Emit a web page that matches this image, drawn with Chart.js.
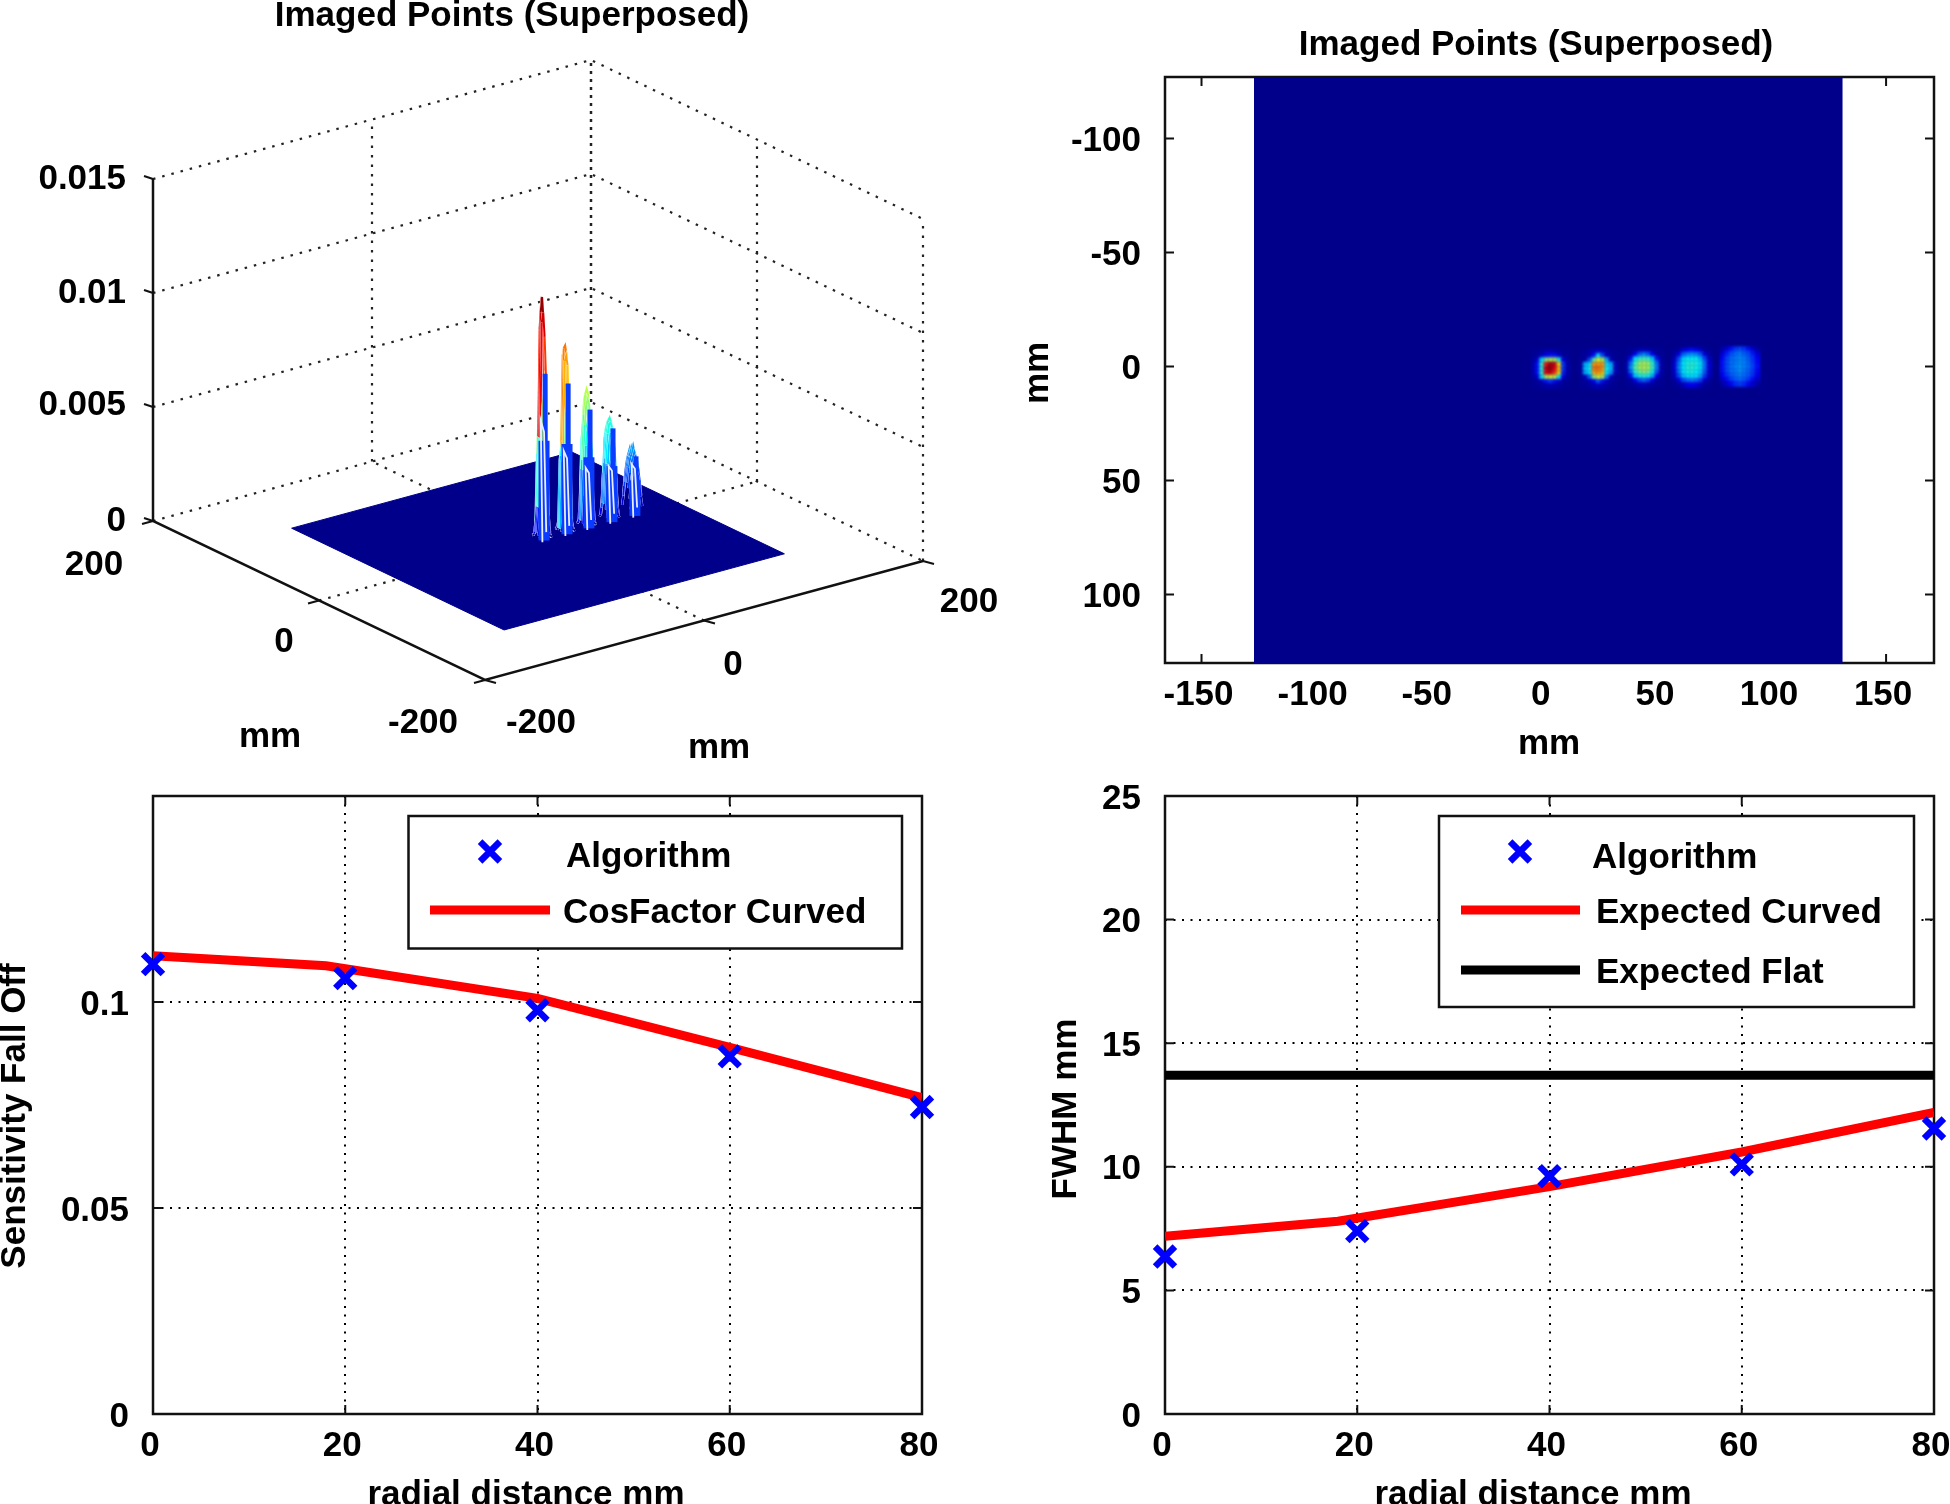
<!DOCTYPE html>
<html>
<head>
<meta charset="utf-8">
<title>Imaged Points</title>
<script src="https://cdn.jsdelivr.net/npm/chart.js@4"></script>
<style>
    html, body { margin: 0; width: 1950px; height: 1504px; overflow: hidden; background: #fff; }
    canvas { position: absolute; left: 0; top: 0; }
</style>
</head>
<body>
<canvas id="surface" width="1990" height="1504"></canvas>
<canvas id="image" width="1990" height="1504"></canvas>
<canvas id="fall" width="1990" height="1504"></canvas>
<canvas id="fwhm" width="1990" height="1504"></canvas>
<script>
const radial = [0, 20, 40, 60, 80]
const curveRadial = [0, 18, 40, 60, 80]

const fallAlgorithm = [0.1092, 0.1058, 0.098, 0.0868, 0.0745]
const fallCurved = [0.1112, 0.1088, 0.1009, 0.089, 0.0768]

const fwhmAlgorithm = [6.37, 7.4, 9.62, 10.1, 11.55]
const fwhmCurved = [7.19, 7.8, 9.2, 10.6, 12.2]
const fwhmFlat = [13.7, 13.7, 13.7, 13.7, 13.7]

const zTicks = [0, 0.005, 0.01, 0.015]
const zTickLabels = ['0', '0.005', '0.01', '0.015']
const floorTicks = [-200, 0, 200]

// point sources, in mm, and their colour values (0-100)
const spotX = [3, 24, 44, 65, 86]
const spotY = [1, 1, 0.5, 0.5, 0]

const spot1 = [
    [2, 2, 3, 4, 5, 4, 3, 2, 2],
    [2, 3, 6, 12, 14, 14, 8, 3, 2],
    [3, 8, 35, 50, 55, 55, 40, 10, 3],
    [4, 14, 42, 85, 95, 92, 65, 18, 4],
    [4, 14, 42, 92, 98, 88, 68, 18, 4],
    [4, 14, 42, 88, 92, 82, 65, 16, 4],
    [3, 8, 35, 55, 60, 58, 38, 10, 3],
    [2, 3, 6, 14, 18, 14, 8, 3, 2],
    [2, 2, 3, 4, 5, 4, 3, 2, 2]
]
const spot2 = [
    [2, 2, 4, 6, 8, 6, 4, 2, 2],
    [2, 3, 5, 14, 35, 20, 6, 3, 2],
    [2, 3, 20, 45, 60, 55, 30, 6, 2],
    [3, 30, 35, 72, 72, 72, 35, 30, 5],
    [3, 32, 38, 75, 76, 72, 38, 32, 5],
    [3, 30, 36, 70, 72, 68, 36, 28, 5],
    [2, 6, 22, 50, 60, 55, 26, 6, 2],
    [2, 3, 5, 12, 22, 14, 6, 3, 2],
    [2, 2, 3, 5, 6, 5, 3, 2, 2]
]
const spot3 = [
    [2, 2, 3, 5, 6, 5, 3, 2, 2],
    [2, 3, 12, 22, 26, 22, 12, 3, 2],
    [3, 14, 36, 42, 44, 42, 34, 14, 3],
    [4, 24, 42, 52, 54, 52, 42, 24, 4],
    [4, 28, 46, 54, 56, 54, 44, 26, 4],
    [4, 24, 42, 50, 52, 50, 40, 22, 4],
    [3, 14, 34, 40, 42, 40, 32, 12, 3],
    [2, 3, 12, 20, 24, 20, 10, 3, 2],
    [2, 2, 3, 5, 6, 4, 3, 2, 2]
]
const spot4 = [
    [2, 3, 8, 12, 14, 12, 8, 3, 2],
    [3, 10, 22, 26, 28, 26, 22, 10, 3],
    [6, 20, 34, 38, 38, 38, 32, 20, 6],
    [8, 24, 36, 40, 41, 40, 36, 24, 8],
    [8, 26, 36, 41, 42, 40, 36, 24, 8],
    [8, 24, 36, 40, 40, 38, 34, 22, 7],
    [6, 20, 32, 36, 36, 36, 30, 18, 6],
    [3, 10, 20, 24, 26, 24, 20, 8, 3],
    [2, 3, 6, 10, 12, 10, 6, 3, 2]
]
const spot5 = [
    [4, 8, 14, 18, 20, 18, 14, 8, 4],
    [8, 15, 20, 23, 25, 22, 20, 15, 8],
    [12, 19, 23, 25, 27, 25, 22, 18, 12],
    [14, 20, 24, 25, 27, 26, 23, 19, 13],
    [14, 20, 24, 26, 28, 26, 24, 20, 14],
    [14, 20, 24, 25, 28, 25, 23, 19, 13],
    [12, 18, 22, 24, 26, 24, 22, 18, 11],
    [8, 14, 19, 22, 24, 22, 19, 14, 8],
    [4, 8, 13, 17, 19, 17, 13, 8, 4]
]
const spots = [spot1, spot2, spot3, spot4, spot5]

// heights of the blue and white parts of each peak on the surface plot
const blueTop = [0.0073, 0.0066, 0.0052, 0.0041, 0.0026]
const whiteTop = [0.0053, 0.0037, 0.0027, 0.0025, 0.0023]

const cellMm = 1.9
const meshMm = 1.3
const fieldX = [-127, 131]
const fieldY = [-127, 130]
const surfaceEdge = 128
const zPerValue = 0.000109

const navy = '#00008b'
const blue = '#0000ff'
const red = '#ff0000'
const ink = '#111111'
const font = '700 35px "Liberation Sans"'
const dots = [2, 6.5]

Chart.defaults.animation = false
Chart.defaults.responsive = false
Chart.defaults.font.family = '"Liberation Sans"'
Chart.defaults.font.size = 35
Chart.defaults.font.weight = 700
Chart.defaults.color = '#000'

const jet = (v) => {
    const c = (n) => Math.round(255 * Math.max(0, Math.min(1, n)))
    return `rgb(${c(Math.min(4 * v - 1.5, 4.5 - 4 * v))},${c(Math.min(4 * v - 0.5, 3.5 - 4 * v))},${c(Math.min(4 * v + 0.5, 2.5 - 4 * v))})`
}

const put = (ctx, text, x, y, align = 'center', turn = false) => {
    ctx.save()
    ctx.font = font
    ctx.fillStyle = '#000'
    ctx.textAlign = align
    ctx.textBaseline = 'middle'
    ctx.translate(turn ? x + 2 : x, turn ? y : y + 2)
    if (turn) ctx.rotate(-Math.PI / 2)
    ctx.fillText(text, 0, 0)
    ctx.restore()
}

// text, frame and inward ticks that the library has no option for
const panelExtras = {
    id: 'panelExtras',
    beforeDatasetDraw(chart, args, opts) {
        if (opts.soften === args.index) chart.ctx.filter = 'blur(1.6px)'
    },
    afterDatasetDraw(chart, args, opts) {
        if (opts.soften === args.index) chart.ctx.filter = 'none'
    },
    beforeDatasetsDraw(chart, args, opts) {
        if (!opts.frame) return
        const { ctx, chartArea: a, scales } = chart
        ctx.save()
        ctx.strokeStyle = ink
        ctx.lineWidth = 2.5
        ctx.strokeRect(a.left, a.top, a.width, a.height)
        ctx.lineWidth = 2
        scales.x.ticks.forEach(t => {
            const px = scales.x.getPixelForValue(t.value)
            ctx.beginPath()
            ctx.moveTo(px, a.top)
            ctx.lineTo(px, a.top + 9)
            ctx.moveTo(px, a.bottom)
            ctx.lineTo(px, a.bottom - 9)
            ctx.stroke()
        })
        scales.y.ticks.forEach(t => {
            const py = scales.y.getPixelForValue(t.value)
            ctx.beginPath()
            ctx.moveTo(a.left, py)
            ctx.lineTo(a.left + 9, py)
            ctx.moveTo(a.right, py)
            ctx.lineTo(a.right - 9, py)
            ctx.stroke()
        })
        ctx.restore()
    },
    afterDatasetsDraw(chart, args, opts) {
        const ctx = chart.ctx
        if (opts.legend) {
            const b = opts.legend
            ctx.save()
            ctx.fillStyle = '#fff'
            ctx.strokeStyle = ink
            ctx.lineWidth = 2.5
            ctx.fillRect(b.x, b.y, b.w, b.h)
            ctx.strokeRect(b.x, b.y, b.w, b.h)
            b.rows.forEach(r => {
                const ds = chart.data.datasets[r.dataset]
                if (r.marker) {
                    ctx.strokeStyle = ds.pointBorderColor
                    ctx.lineWidth = ds.pointBorderWidth
                    Chart.helpers.drawPoint(ctx, { pointStyle: ds.pointStyle, radius: ds.pointRadius, borderWidth: ds.pointBorderWidth }, r.sx, r.sy)
                } else {
                    ctx.strokeStyle = ds.borderColor
                    ctx.lineWidth = ds.borderWidth
                    ctx.beginPath()
                    ctx.moveTo(r.sx, r.sy)
                    ctx.lineTo(r.ex, r.sy)
                    ctx.stroke()
                }
                put(ctx, ds.label, r.tx, r.ty, 'left')
            })
            ctx.restore()
        }
        (opts.texts || []).forEach(t => put(ctx, t.text, t.x, t.y, t.align, t.turn))
    }
}
Chart.register(panelExtras)

const linearPanel = (id, series, o) => new Chart(document.getElementById(id), {
    type: 'scatter',
    data: { datasets: series },
    options: {
        layout: { padding: { left: o.left, top: o.top, right: o.right, bottom: o.bottom } },
        scales: {
            x: {
                type: 'linear', min: o.xMin, max: o.xMax,
                afterFit: (s) => { s.height = 60 },
                grid: { display: !!o.grid, drawTicks: false, color: '#000', lineWidth: 2 },
                border: { display: false, dash: dots },
                ticks: { stepSize: o.xStep, padding: 11, labelOffset: -3, maxRotation: 0, includeBounds: false, autoSkip: false }
            },
            y: {
                type: 'linear', min: o.yMin, max: o.yMax, reverse: !!o.yReverse,
                afterFit: (s) => { s.width = o.yWidth },
                grid: { display: !!o.grid, drawTicks: false, color: '#000', lineWidth: 2 },
                border: { display: false, dash: dots },
                ticks: { stepSize: o.yStep, padding: 24, labelOffset: 3, includeBounds: false, autoSkip: false, callback: o.yLabel }
            }
        },
        plugins: {
            legend: { display: false },
            tooltip: { enabled: false },
            panelExtras: { frame: true, legend: o.legend, texts: o.texts, soften: o.soften }
        }
    }
})

const pairs = (xs, ys) => xs.map((x, i) => ({ x: x, y: ys[i] }))

const markers = (label, ys) => ({
    label: label, data: pairs(radial, ys), order: 0, clip: false, showLine: false,
    pointStyle: 'crossRot', pointRadius: 14, pointBorderWidth: 6.5,
    pointBorderColor: blue, pointBackgroundColor: blue
})
const curve = (label, xs, ys, color) => ({
    label: label, data: pairs(xs, ys), order: 1, showLine: true,
    borderColor: color, borderWidth: 9, pointRadius: 0
})

linearPanel('fall', [
    markers('Algorithm', fallAlgorithm),
    curve('CosFactor Curved', curveRadial, fallCurved, red)
], {
    left: 0, top: 796, right: 1990 - 922, bottom: 1504 - 1414 - 60, yWidth: 153, grid: true,
    xMin: 0, xMax: 80, xStep: 20, yMin: 0, yMax: 0.15, yStep: 0.05,
    yLabel: (v) => v > 0.12 ? '' : String(+v.toFixed(2)),
    legend: {
        x: 408.5, y: 816, w: 493.5, h: 132.5,
        rows: [
            { dataset: 0, marker: true, sx: 490, sy: 851.5, tx: 566, ty: 855 },
            { dataset: 1, sx: 430, ex: 550, sy: 910, tx: 563, ty: 911.5 }
        ]
    },
    texts: [
        { text: 'radial distance mm', x: 526, y: 1493 },
        { text: 'Sensitivity Fall Off', x: 13, y: 1116, turn: true }
    ]
})

linearPanel('fwhm', [
    markers('Algorithm', fwhmAlgorithm),
    curve('Expected Curved', curveRadial, fwhmCurved, red),
    curve('Expected Flat', radial, fwhmFlat, '#000')
], {
    left: 1000, top: 796, right: 1990 - 1934, bottom: 1504 - 1414 - 60, yWidth: 165, grid: true,
    xMin: 0, xMax: 80, xStep: 20, yMin: 0, yMax: 25, yStep: 5,
    yLabel: (v) => String(v),
    legend: {
        x: 1439, y: 816, w: 475, h: 191,
        rows: [
            { dataset: 0, marker: true, sx: 1520, sy: 851.5, tx: 1592, ty: 856 },
            { dataset: 1, sx: 1461, ex: 1580, sy: 910, tx: 1596, ty: 911.5 },
            { dataset: 2, sx: 1461, ex: 1580, sy: 970, tx: 1596, ty: 971.5 }
        ]
    },
    texts: [
        { text: 'radial distance mm', x: 1533, y: 1493 },
        { text: 'FWHM mm', x: 1064, y: 1109, turn: true }
    ]
})

// flat image: one rectangle for the field, one square point per cell
const cellSeries = { label: 'cells', data: [], order: 0, showLine: false, pointStyle: 'rect', pointRadius: 3.6, pointBorderWidth: 0, pointBackgroundColor: [] }
spots.forEach((spot, s) => {
    spot.forEach((row, j) => {
        row.forEach((val, i) => {
            cellSeries.data.push({ x: spotX[s] + (i - 4) * cellMm, y: spotY[s] + (j - 4) * cellMm })
            cellSeries.pointBackgroundColor.push(jet(val / 100))
        })
    })
})

linearPanel('image', [
    cellSeries,
    {
        label: 'field', order: 1, showLine: true, borderWidth: 0, pointRadius: 0,
        data: [{ x: fieldX[0], y: fieldY[1] }, { x: fieldX[1], y: fieldY[1] }],
        fill: { value: fieldY[0] }, backgroundColor: navy
    }
], {
    left: 1000, top: 77, right: 1990 - 1934, bottom: 1504 - 663 - 60, yWidth: 165, soften: 0,
    xMin: -166, xMax: 171, xStep: 50, yMin: fieldY[0], yMax: fieldY[1], yStep: 50, yReverse: true,
    yLabel: (v) => String(v),
    texts: [
        { text: 'Imaged Points (Superposed)', x: 1536, y: 43 },
        { text: 'mm', x: 1549, y: 742 },
        { text: 'mm', x: 1036, y: 373, turn: true }
    ]
})

// 3D panel: oblique view of (u, v, z) on a pair of hidden linear scales
const cornerA = { x: 153, y: 521 }
const cornerB = { x: 485, y: 680 }
const cornerC = { x: 923, y: 561 }
const zHeight = 342

const view = (u, v, z) => {
    const a = (u + 200) / 400
    const b = (v + 200) / 400
    return {
        x: cornerB.x + a * (cornerC.x - cornerB.x) + b * (cornerA.x - cornerB.x),
        y: cornerB.y + a * (cornerC.y - cornerB.y) + b * (cornerA.y - cornerB.y) - z / 0.015 * zHeight
    }
}

const painted = []
const polyline = (points, color, width, dash, extra) => painted.push(Object.assign({
    data: points, showLine: true, pointRadius: 0, clip: false,
    borderColor: color, borderWidth: width, borderDash: dash || []
}, extra))

// walls and floor
const wallDots = [2.5, 7]
zTicks.forEach(z => {
    polyline([view(-200, 200, z), view(200, 200, z), view(200, -200, z)], '#222', 2.2, wallDots)
})
polyline([view(0, 200, 0), view(0, 200, 0.015)], '#222', 2.2, wallDots)
polyline([view(200, 200, 0), view(200, 200, 0.015)], '#222', 2.5, [3, 5])
polyline([view(200, 0, 0), view(200, 0, 0.015)], '#222', 2.2, wallDots)
polyline([view(200, -200, 0), view(200, -200, 0.015)], '#222', 2.2, wallDots)
polyline([view(0, -200, 0), view(0, 200, 0)], '#222', 2.2, wallDots)
polyline([view(-200, 0, 0), view(200, 0, 0)], '#222', 2.2, wallDots)

// flat field on the floor, filled between its upper and lower edge
polyline([view(-surfaceEdge, surfaceEdge, 0), view(surfaceEdge, surfaceEdge, 0), view(surfaceEdge, -surfaceEdge, 0)], navy, 1, [], { fill: '+1', backgroundColor: navy })
polyline([view(-surfaceEdge, surfaceEdge, 0), view(-surfaceEdge, -surfaceEdge, 0), view(surfaceEdge, -surfaceEdge, 0)], navy, 1)

// mesh of each peak, back to front, then its blue body and white gaps in front
spots.map((spot, s) => s).reverse().forEach(s => {
    const spot = spots[s]
    spot.forEach((row, j) => {
        const v = -spotY[s] + (4 - j) * meshMm
        const line = row.map((val, i) => view(spotX[s] + (i - 4) * meshMm, v, val * zPerValue))
        polyline(line, '#fff', 2.5)
        polyline(line, blue, 2, [], {
            segment: { borderColor: (c) => jet(Math.max(row[c.p0DataIndex], row[c.p1DataIndex]) / 100) }
        })
    })
    const u = spotX[s]
    const base = -2
    polyline([view(u + 1, base, 0), view(u + 1, base, blueTop[s] * 0.6)], '#0a3cff', 11)
    polyline([view(u + 2, base, 0), view(u + 2, base, blueTop[s])], '#0a3cff', 5)
    polyline([view(u - 2, -4, 0), view(u - 2, base, whiteTop[s]), view(u + 1, base, whiteTop[s] * 0.9), view(u + 1.5, -4, 0.0004)], '#e8eeff', 1.8)
})

// solid box edges and their ticks
polyline([view(-200, 200, 0.015), view(-200, 200, 0), view(-200, -200, 0), view(200, -200, 0)], ink, 2.5)
zTicks.forEach(z => {
    const p = view(-200, 200, z)
    polyline([p, { x: p.x - 9, y: p.y - 3 }], ink, 2)
})
floorTicks.forEach(t => {
    const p = view(-200, t, 0)
    const q = view(t, -200, 0)
    polyline([p, { x: p.x - 11, y: p.y + 3 }], ink, 2)
    polyline([q, { x: q.x + 11, y: q.y + 3 }], ink, 2)
})

painted.forEach((ds, i) => { ds.order = painted.length - i })

new Chart(document.getElementById('surface'), {
    type: 'scatter',
    data: { datasets: painted },
    options: {
        scales: {
            x: { type: 'linear', display: false, min: 0, max: 1990 },
            y: { type: 'linear', display: false, min: 0, max: 1504, reverse: true }
        },
        plugins: {
            legend: { display: false },
            tooltip: { enabled: false },
            panelExtras: {
                texts: [
                    { text: 'Imaged Points (Superposed)', x: 512, y: 14 },
                    { text: zTickLabels[3], x: 126, y: 177, align: 'right' },
                    { text: zTickLabels[2], x: 126, y: 291, align: 'right' },
                    { text: zTickLabels[1], x: 126, y: 403, align: 'right' },
                    { text: zTickLabels[0], x: 126, y: 519, align: 'right' },
                    { text: String(floorTicks[2]), x: 94, y: 563 },
                    { text: String(floorTicks[1]), x: 284, y: 640 },
                    { text: String(floorTicks[0]), x: 423, y: 721 },
                    { text: String(floorTicks[0]), x: 541, y: 721 },
                    { text: String(floorTicks[1]), x: 733, y: 663 },
                    { text: String(floorTicks[2]), x: 969, y: 600 },
                    { text: 'mm', x: 270, y: 735 },
                    { text: 'mm', x: 719, y: 746 }
                ]
            }
        }
    }
})
</script>
</body>
</html>
